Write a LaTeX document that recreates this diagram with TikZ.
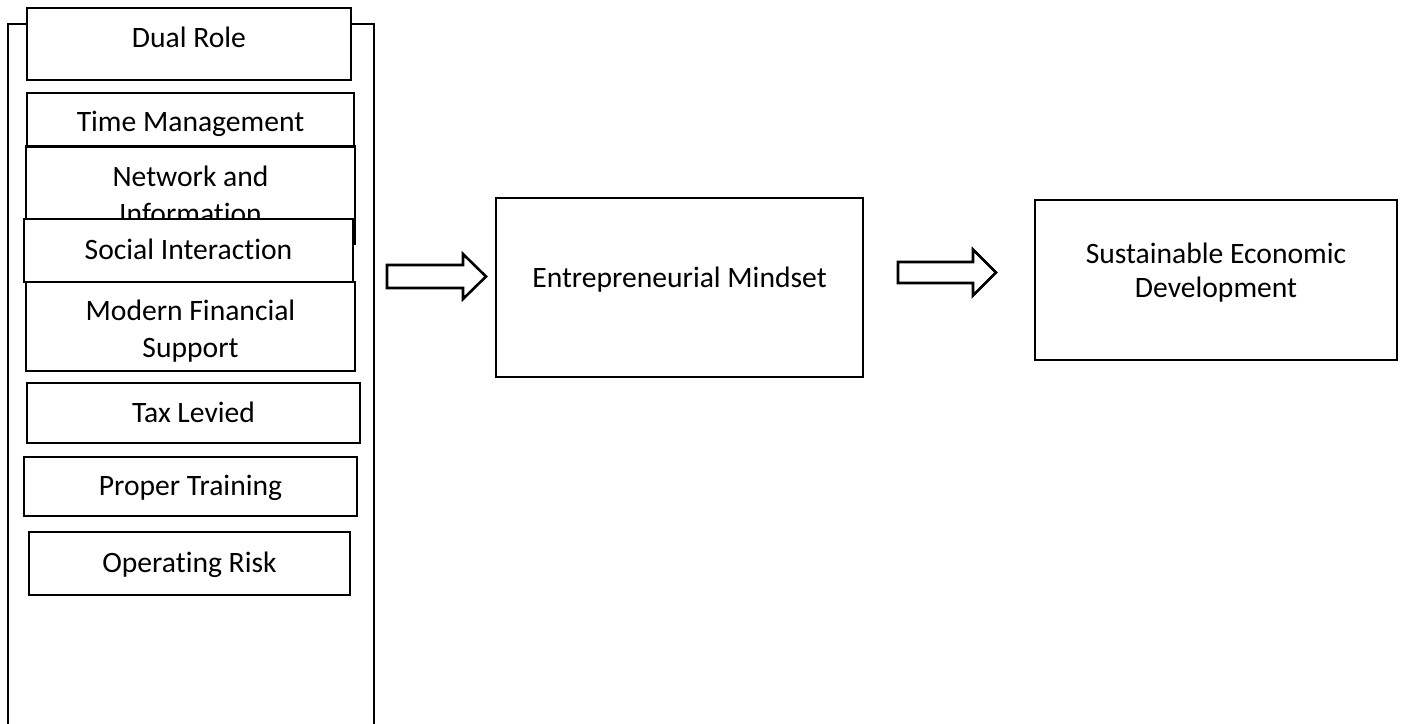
\documentclass[tikz,border=0pt]{standalone}
\usepackage{fontspec}
\setmainfont{Carlito}[Ligatures = NoCommon]
\begin{document}
\begin{tikzpicture}[x=0.5pt, y=-0.5pt, line width=1.3pt,
    font=\fontsize{14.8}{18.5}\selectfont]
        \tikzstyle{box} = [draw, fill = white, rectangle, inner sep = 0pt, text height = 1.12em, text depth = 0.2em]
        \tikzstyle{twoline} = [box, align = center, text height = {}, text depth = {}]
        \tikzstyle{lift} = [text depth = #1]
        \useasboundingbox (0, 0) rectangle (1411, 723);
        % frame round the factors, open at the bottom
        \coordinate (F-bl) at (8, 740);
        \coordinate (F-br) at (374, 740);
        \draw (F-bl) |- (191, 24) -| (F-br);
        \node[box, lift = 8.1pt, minimum width = 162pt, minimum height = 36pt] (dual) at (189, 44) {Dual Role};
        \node[box, minimum width = 163.5pt, minimum height = 29pt] (time) at (190.5, 122) {Time Management};
        \node[twoline, minimum width = 164.5pt, minimum height = 48.5pt] (netw) at (190.5, 195) {Network and\\Information};
        \node[box, minimum width = 164.5pt, minimum height = 31.5pt] (social) at (188.5, 250.5) {Social Interaction};
        \node[twoline, minimum width = 164.5pt, minimum height = 44.5pt] (modern) at (190.5, 326.5) {\rule{0pt}{1em}Modern Financial\\Support};
        \node[box, minimum width = 166.5pt, minimum height = 30pt] (tax) at (193.5, 413) {Tax Levied};
        \node[box, minimum width = 166.5pt, minimum height = 29.5pt] (train) at (190.5, 486.5) {Proper Training};
        \node[box, minimum width = 160.5pt, minimum height = 31.5pt] (risk) at (189.5, 563.5) {Operating Risk};
        \node[box, lift = 11.6pt, minimum width = 183.5pt, minimum height = 89.5pt] (mind) at (679.5, 287.5) {Entrepreneurial Mindset};
        \node[twoline, lift = 10pt, font = \fontsize{14.8}{17}\selectfont, minimum width = 181pt, minimum height = 80pt] (sed) at (1216, 280) {Sustainable Economic\\Development};
        % block arrows
        \coordinate (A-1) at (387, 276.5);
        \coordinate (A-2) at (898, 272.5);
        \draw (A-1) ++(0, -11.5) -- ++(76, 0) -- ++(0, -11) -- ++(23, 22.5) -- ++(-23, 22.5) -- ++(0, -11) -- ++(-76, 0) -- cycle;
        \draw (A-2) ++(0, -10.5) -- ++(75, 0) -- ++(0, -12.5) -- ++(23, 23) -- ++(-23, 23) -- ++(0, -12.5) -- ++(-75, 0) -- cycle;
      \end{tikzpicture}
\end{document}
